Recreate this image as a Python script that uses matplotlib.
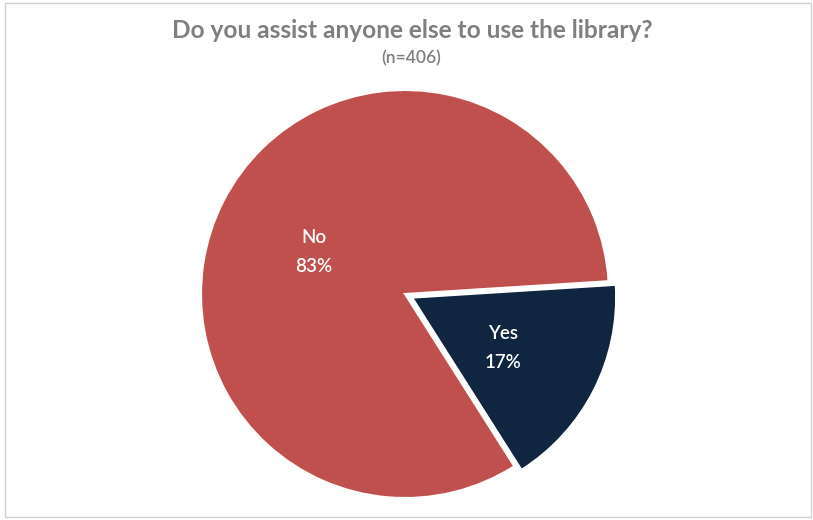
import matplotlib
matplotlib.use("Agg")
import matplotlib.pyplot as plt
from matplotlib.patches import Rectangle

categories = ["No", "Yes"]
shares = [83, 17]
colors = ["#C0504D", "#10253F"]
title = "Do you assist anyone else to use the library?"
subtitle = "(n=406)"

W, H = 813, 520
fig = plt.figure(figsize=(W / 100, H / 100), dpi=100)
ax = fig.add_axes([0, 0, 1, 1])

# chart frame
ax.add_patch(Rectangle((5, 3), W - 7, H - 6, fill=False, edgecolor="#D0D0D0", linewidth=1))

# pie drawn in pixel-sized data units, so the explode offset is in pixels too
labels_iter = iter(categories)
wedges, texts, autotexts = ax.pie(
    shares,
    colors=colors,
    explode=(0, 8),
    startangle=-57.6,
    counterclock=False,
    center=(405, 226),
    radius=204,
    autopct=lambda p: f"{next(labels_iter)}\n{p:.0f}%",
    pctdistance=0.5,
    wedgeprops=dict(edgecolor="white", linewidth=1.5),
    textprops=dict(color="white", fontsize=13.5, family="Lato", fontweight="semibold",
                   linespacing=1.85),
    frame=True,
)
for t in autotexts:
    x, y = t.get_position()
    t.set_position((x, y - 4))
ax.axis("off")
ax.set_xlim(0, W)
ax.set_ylim(0, H)
ax.set_aspect("equal")

ax.text(412, H - 30, title, ha="center", va="center", fontsize=17.6, fontweight="bold",
        color="#7F7F7F", family="Lato")
ax.text(411, H - 58, subtitle, ha="center", va="center", fontsize=12.5, fontweight="semibold",
        color="#7F7F7F", family="Lato")

fig.savefig("out.png", dpi=100)
